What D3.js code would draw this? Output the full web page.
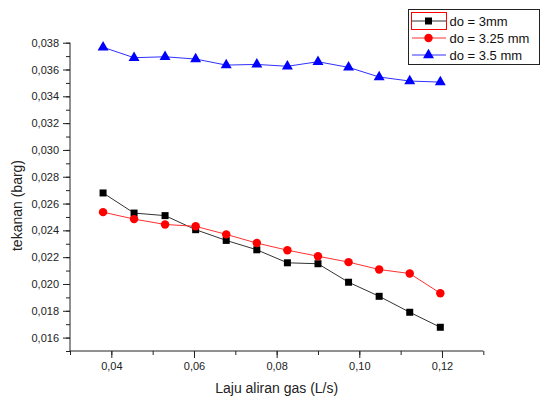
<!DOCTYPE html>
<html><head><meta charset="utf-8">
<script src="https://cdn.jsdelivr.net/npm/d3@7/dist/d3.min.js"></script>
<style>body{margin:0;background:#fff}svg{display:block;font-family:"Liberation Sans",Arial,sans-serif}</style>
</head><body>
<script>
const xValues = [0.038, 0.0455, 0.053, 0.0604, 0.0678, 0.0752, 0.0826, 0.09, 0.0974, 0.1048, 0.1122, 0.1196];
const s3mm   = [0.02679, 0.02529, 0.0251, 0.02405, 0.02325, 0.02255, 0.02158, 0.02151, 0.02013, 0.01908, 0.01789, 0.01677];
const s325mm = [0.02536, 0.02484, 0.02444, 0.0243, 0.0237, 0.02305, 0.02252, 0.02207, 0.02163, 0.02108, 0.02078, 0.01931];
const s35mm  = [0.03766, 0.03688, 0.03695, 0.03678, 0.03633, 0.03638, 0.03624, 0.03658, 0.03616, 0.03544, 0.03514, 0.03506];
const seriesNames = ["do = 3mm", "do = 3.25 mm", "do = 3.5 mm"];
const xTicks = [0.04, 0.06, 0.08, 0.10, 0.12];
const yTicks = [0.016, 0.018, 0.020, 0.022, 0.024, 0.026, 0.028, 0.030, 0.032, 0.034, 0.036, 0.038];
const xTitle = "Laju aliran gas (L/s)";
const yTitle = "tekanan (barg)";

const W = 541, H = 401;
const L = 70, R = 483.3, T = 42.7, B = 351;
const svg = d3.select("body").append("svg").attr("width", W).attr("height", H);

const x = d3.scaleLinear().domain([0.03, 0.13]).range([L, R]);
const y = d3.scaleLinear().domain([0.015, 0.038]).range([B, T]);
const fmt = v => d3.format(".2f")(v).replace(".", ",");
const fmtY = v => d3.format(".3f")(v).replace(".", ",");

// axes
const axisColor = "#222";
const xMinor = d3.range(0.03, 0.1301, 0.01);
const yMinor = d3.range(0.015, 0.03801, 0.001);
const xa = svg.append("g").attr("transform", `translate(0,${B})`);
xa.call(d3.axisBottom(x).tickValues(xMinor).tickSize(4).tickFormat(""));
xa.call(g => g.select(".domain").remove());
xa.append("g").call(d3.axisBottom(x).tickValues(xTicks).tickSize(7).tickPadding(4).tickFormat(fmt));
xa.selectAll("path.domain").remove();
xa.append("line").attr("x1", L).attr("x2", R).attr("stroke", axisColor);
xa.selectAll("line").attr("stroke", axisColor);
xa.selectAll("text").attr("font-size", 11).attr("fill", "#222").attr("font-family", "Liberation Sans, Arial, sans-serif");

const ya = svg.append("g").attr("transform", `translate(${L},0)`);
ya.call(d3.axisLeft(y).tickValues(yMinor).tickSize(4).tickFormat(""));
ya.append("g").call(d3.axisLeft(y).tickValues(yTicks).tickSize(7).tickPadding(4).tickFormat(fmtY));
ya.selectAll("path.domain").remove();
ya.append("line").attr("y1", T).attr("y2", B).attr("stroke", axisColor);
ya.selectAll("line").attr("stroke", axisColor);
ya.selectAll("text").attr("font-size", 11).attr("fill", "#222").attr("font-family", "Liberation Sans, Arial, sans-serif");

svg.append("text").attr("x", 276.7).attr("y", 393).attr("text-anchor", "middle")
  .attr("font-size", 14).attr("fill", "#222").text(xTitle);
svg.append("text").attr("transform", "translate(22,205.5) rotate(-90)").attr("text-anchor", "middle")
  .attr("font-size", 14).attr("fill", "#222").text(yTitle);

const series = [
  {name: seriesNames[0], vals: s3mm, color: "#000000", line: "#333", shape: "square"},
  {name: seriesNames[1], vals: s325mm, color: "#ff0000", line: "#ff3030", shape: "circle"},
  {name: seriesNames[2], vals: s35mm, color: "#0000ff", line: "#3030ff", shape: "triangle"}
];
const sym = {square: d3.symbol().type(d3.symbolSquare).size(49),
             circle: d3.symbol().type(d3.symbolCircle).size(56),
             triangle: d3.symbol().type(d3.symbolTriangle).size(52)};
const line = d3.line().x((d, i) => x(xValues[i])).y(d => y(d));
series.forEach(s => {
  svg.append("path").attr("d", line(s.vals)).attr("fill", "none").attr("stroke", s.line).attr("stroke-width", 1);
  svg.append("g").selectAll("path").data(s.vals).join("path")
    .attr("transform", (d, i) => `translate(${x(xValues[i])},${y(d)})`)
    .attr("d", sym[s.shape]()).attr("fill", s.color);
});

// legend
const lg = svg.append("g");
lg.append("rect").attr("x", 408.5).attr("y", 9.5).attr("width", 131).attr("height", 55)
  .attr("fill", "#fff").attr("stroke", "#222");
lg.append("rect").attr("x", 411.5).attr("y", 12.5).attr("width", 35).attr("height", 17)
  .attr("fill", "none").attr("stroke", "#ff0000");
const rowsY = [21, 38, 55];
series.forEach((s, i) => {
  lg.append("line").attr("x1", 412).attr("x2", 446).attr("y1", rowsY[i]).attr("y2", rowsY[i]).attr("stroke", s.line);
  lg.append("path").attr("transform", `translate(428.5,${rowsY[i]})`).attr("d", sym[s.shape]()).attr("fill", s.color);
  lg.append("text").attr("x", 449.5).attr("y", rowsY[i] + 5).attr("font-size", 13).attr("fill", "#111").text(s.name);
});
</script>
</body></html>
